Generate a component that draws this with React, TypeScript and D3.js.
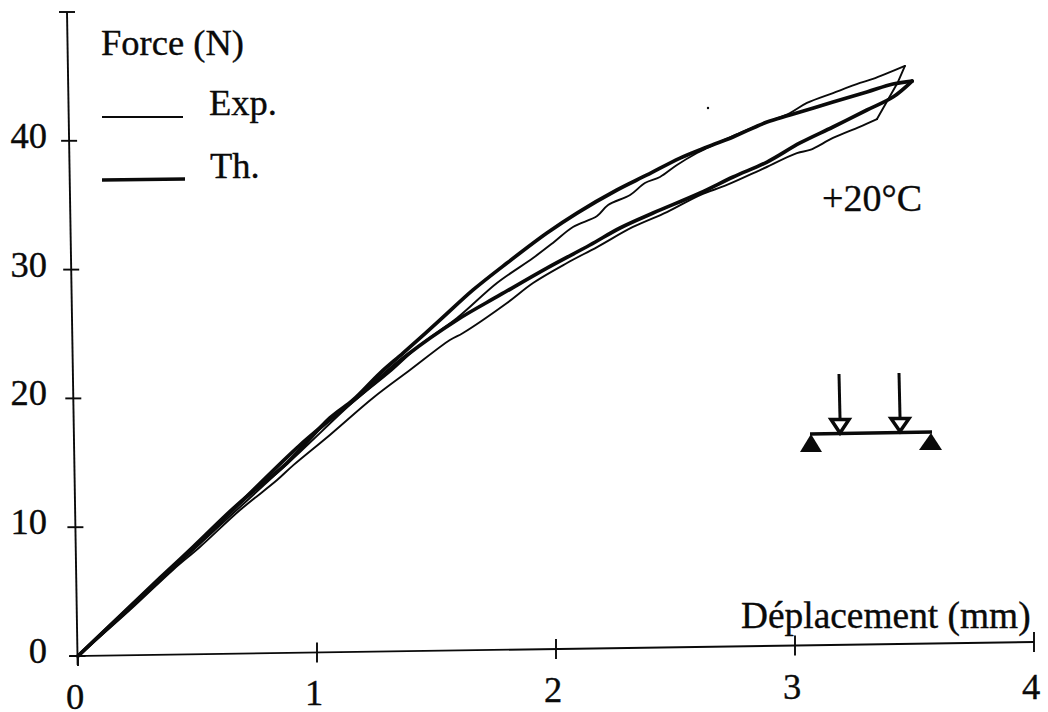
import React from "react";
import * as d3 from "d3";

const xTicks = [0, 1, 2, 3, 4];
const yTicks = [0, 10, 20, 30, 40];
const xLabelBaselines = [709, 705, 702, 699, 699];

const thX = [0, .343, .481, .665, .874, 1.054, 1.151, 1.264, 1.36, 1.515, 1.653, 1.795, 1.962, 2.088, 2.255, 2.381, 2.519, 2.632, 2.741, 2.883, 2.979, 3.159, 3.301, 3.41, 3.49,
  3.41, 3.301, 3.159, 3.021, 2.883, 2.741, 2.603, 2.406, 2.268, 2.142, 1.962, 1.766, 1.586, 1.377, 1.18, .929, .678, .469, .218, 0];
const thF = [0, 6.06, 8.46, 11.72, 14.98, 18.48, 19.88, 21.97, 23.52, 26.09, 28.42, 30.51, 32.84, 34.39, 36.18, 37.35, 38.66, 39.52, 40.3, 41.46, 42, 43.01, 43.79, 44.41, 44.64,
  43.4, 42.39, 41.07, 39.83, 38.35, 37.19, 35.95, 34.39, 33.23, 31.91, 30.12, 28.03, 26.09, 23.37, 20.26, 16.38, 11.88, 8.15, 3.8, 0];

const expX = [0, .218, .397, .51, .678, .833, .9, 1.054, 1.234, 1.389, 1.556, 1.611, 1.795, 1.904, 2.046, 2.172, 2.322, 2.464, 2.603, 2.715, 2.854, 3.008, 3.063, 3.159, 3.268, 3.343, 3.431, 3.46,
  3.326, 3.272, 3.159, 3.05, 2.979, 2.883, 2.77, 2.632, 2.59, 2.506, 2.435, 2.372, 2.31, 2.218, 2.172, 2.071, 1.987, 1.904, 1.753, 1.586, 1.431, 1.305, 1.151, .929, .678, .469, .218, 0];
const expF = [0, 3.58, 6.68, 8.46, 11.33, 13.66, 14.8, 17.16, 20.03, 22.2, 24.53, 25.08, 27.41, 28.96, 30.51, 31.75, 33.31, 34.47, 35.79, 36.57, 37.73, 39.05, 39.29, 40.22, 41.07, 41.69, 44.57, 45.81,
  44.8, 44.49, 43.71, 42.94, 42.16, 41.46, 40.61, 39.44, 39.05, 38.12, 37.19, 36.72, 35.79, 35.02, 34.16, 33.31, 32.07, 30.9, 28.96, 26.24, 24.15, 22.05, 19.72, 15.84, 11.57, 8, 3.65, 0];

const W = 1048, H = 712;
const x = d3.scaleLinear().domain([0, 4]).range([78, 1034]);
const y = d3.scaleLinear().domain([0, 50]).range([656, 12]);
// the scanned axes lean slightly
const axisY = (px: number) => 656 - (px - 78) * 14 / 956;
const axisX = (py: number) => 77.5 - (656 - py) * 10.5 / 644;

const path = (xs: number[], fs: number[], from: number, to: number, curve: d3.CurveFactory) =>
  d3.line<[number, number]>().x((d) => x(d[0])).y((d) => y(d[1])).curve(curve)(
    xs.slice(from, to + 1).map((v, i) => [v, fs[from + i]] as [number, number])
  ) ?? "";

const thPeak = thX.indexOf(Math.max(...thX));
const expKnee = expX.indexOf(3.343);
const expPeak = expF.indexOf(Math.max(...expF));

const INK = "#0a0a0a";
const FONT = "'Liberation Serif', serif";

export default function App() {
  return (
    <svg width={W} height={H} style={{ position: "absolute", left: 0, top: 0, background: "#fff" }}
      fontFamily={FONT} fontSize={36.5} fill={INK}>
      {/* axes */}
      <g stroke={INK} strokeWidth={1.9} fill="none">
        <line x1={axisX(y(50))} y1={y(50)} x2={axisX(y(-0.7))} y2={y(-0.7)} />
        <line x1={59} y1={y(50)} x2={75} y2={y(50)} />
        <line x1={69} y1={axisY(69)} x2={x(4)} y2={axisY(x(4))} />
        {yTicks.map((t) => (
          <line key={t} x1={axisX(y(t)) - 8} y1={y(t)} x2={axisX(y(t)) + 8} y2={y(t)} />
        ))}
        {xTicks.map((t) => (
          <line key={t} x1={x(t)} y1={axisY(x(t)) - (t === 0 ? 0 : 10)} x2={x(t)} y2={axisY(x(t)) + 10} />
        ))}
      </g>
      <g stroke={INK} strokeWidth={0.35}>
        {/* tick labels */}
        {yTicks.map((t) => (
          <text key={t} x={47} y={y(t) + 7} textAnchor="end">{t}</text>
        ))}
        {xTicks.map((t, i) => (
          <text key={t} x={x(t) - 3} y={xLabelBaselines[i]} textAnchor="middle">{t}</text>
        ))}
        {/* titles and legend */}
        <text x={101} y={55}>Force (N)</text>
        <text x={209} y={115}>Exp.</text>
        <text x={210} y={178}>Th.</text>
        <text x={741} y={628} fontSize={37.4}>Déplacement (mm)</text>
        <text x={822} y={211} fontSize={38}>+20°C</text>
      </g>
      {/* curves */}
      <g fill="none" stroke={INK} strokeLinejoin="round" strokeLinecap="round">
        <g strokeWidth={1.9}>
          <path d={path(expX, expF, 0, expKnee, d3.curveCatmullRom)} />
          <path d={path(expX, expF, expKnee, expPeak, d3.curveLinear)} />
          <path d={path(expX, expF, expPeak, expX.length - 1, d3.curveCatmullRom)} />
        </g>
        <g strokeWidth={3.7}>
          <path d={path(thX, thF, 0, thPeak, d3.curveCatmullRom)} />
          <path d={path(thX, thF, thPeak, thX.length - 1, d3.curveCatmullRom)} />
        </g>
      </g>
      <line x1={102} y1={117} x2={183} y2={117} stroke={INK} strokeWidth={1.9} />
      <line x1={102} y1={180} x2={185} y2={179} stroke={INK} strokeWidth={3.4} />
      <circle cx={708} cy={108} r={1.2} />
      {/* loading schematic */}
      <g stroke={INK} fill="none">
        <line x1={839} y1={374} x2={840} y2={418} strokeWidth={3} />
        <line x1={899} y1={373} x2={900} y2={417} strokeWidth={3} />
        <path d="M810 434L932 432" strokeWidth={3.5} />
        <path d="M831 419.5H849L840 433Z" strokeWidth={3.5} />
        <path d="M891 418.5H909L900 431.5Z" strokeWidth={3.5} />
      </g>
      <path d="M800 452H822L811 434Z" />
      <path d="M919 450H942L931 433Z" />
    </svg>
  );
}
